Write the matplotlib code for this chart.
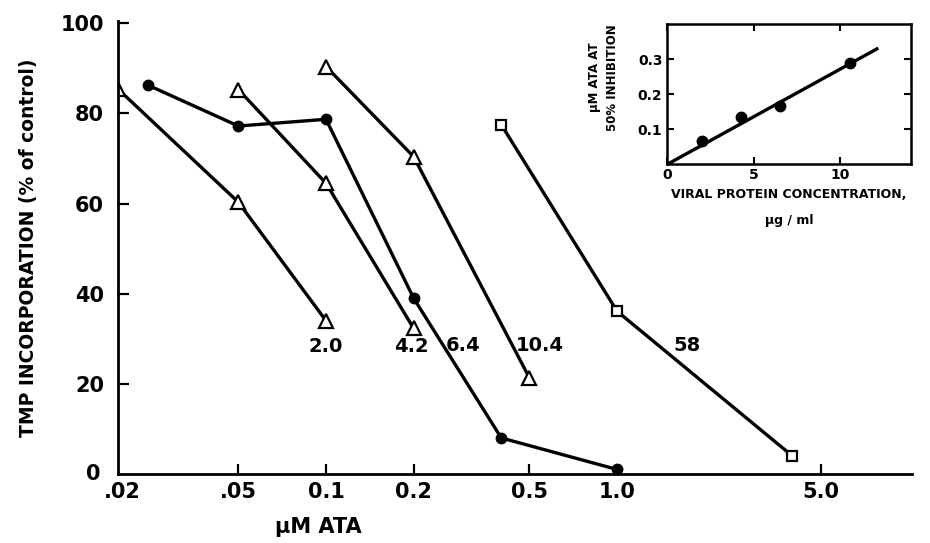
import matplotlib
matplotlib.use("Agg")
import matplotlib.pyplot as plt

# main panel: uM ATA vs TMP incorporation (% of control)
x_20 = [0.0193, 0.05, 0.1]
y_20 = [85.4, 60.3, 34.0]
x_42 = [0.05, 0.1, 0.2]
y_42 = [85.3, 64.5, 32.3]
x_64 = [0.0244, 0.05, 0.1, 0.2, 0.4, 1.0]
y_64 = [86.3, 77.2, 78.7, 39.0, 8.0, 1.0]
x_104 = [0.1, 0.2, 0.5]
y_104 = [90.4, 70.4, 21.3]
x_58 = [0.4, 1.0, 4.0]
y_58 = [77.5, 36.1, 4.0]

curve_labels = ["2.0", "4.2", "6.4", "10.4", "58"]
label_x = [0.1, 0.197, 0.296, 0.544, 1.74]
label_y = [28.3, 28.3, 28.4, 28.4, 28.4]

xticks = [0.02, 0.05, 0.1, 0.2, 0.5, 1.0, 5.0]
xticklabels = [".02", ".05", "0.1", "0.2", "0.5", "1.0", "5.0"]
yticks = [20, 40, 60, 80, 100]

# inset: viral protein vs uM ATA at 50% inhibition
inset_x = [2.02, 4.26, 6.51, 10.52]
inset_y = [0.067, 0.136, 0.165, 0.290]
fit_x = [0, 12.1]
fit_y = [0, 0.329]

plt.rcParams['font.family'] = ['DejaVu Sans']
plt.rcParams['font.weight'] = 'bold'

fig = plt.figure(figsize=(9.3, 5.43), dpi=100)
ax = fig.add_axes([0.1269, 0.1271, 0.8537, 0.8342])

lw = 2.4
tri = dict(marker="^", markersize=10, markerfacecolor="white",
           markeredgecolor="black", markeredgewidth=1.6)
ax.plot(x_20, y_20, color="black", lw=lw, **tri)
ax.plot(x_42, y_42, color="black", lw=lw, **tri)
ax.plot(x_104, y_104, color="black", lw=lw, **tri)
ax.plot(x_64, y_64, color="black", lw=lw, marker="o", markersize=7.5)
ax.plot(x_58, y_58, color="black", lw=lw, marker="s", markersize=7,
        markerfacecolor="white", markeredgecolor="black", markeredgewidth=1.6)

for t, lx, ly in zip(curve_labels, label_x, label_y):
    ax.text(lx, ly, t, ha="center", va="center", fontsize=14, fontweight="bold")

ax.set_xscale("log")
ax.set_xlim(0.0193, 10.3)
ax.set_ylim(0, 100.5)
ax.set_xticks(xticks)
ax.set_xticklabels(xticklabels)
ax.minorticks_off()
ax.xaxis.get_major_ticks()[0].tick1line.set_visible(False)
ax.set_yticks(yticks)
ax.set_yticklabels([str(v) for v in yticks])
ax.text(-0.022, 0, "0", transform=ax.get_yaxis_transform(), ha="right",
        va="center", fontsize=15, fontweight="bold")
ax.tick_params(axis="both", direction="in", width=1.6, labelsize=15)
ax.tick_params(axis="y", length=8, pad=10)
ax.tick_params(axis="x", length=7, pad=6)
for side in ["top", "right"]:
    ax.spines[side].set_visible(False)
for side in ["left", "bottom"]:
    ax.spines[side].set_linewidth(2)

ax.set_ylabel("TMP INCORPORATION (% of control)", fontsize=13.5,
              fontweight="bold", labelpad=16)
ax.set_xlabel("\u03bcM ATA", fontsize=15, fontweight="bold", labelpad=8)
ax.xaxis.set_label_coords(0.252, -0.095)

# inset
ins = fig.add_axes([0.7175, 0.6974, 0.2617, 0.2584])
ins.plot(fit_x, fit_y, color="black", lw=2.4)
ins.plot(inset_x, inset_y, "o", color="black", markersize=7.5)
ins.set_xlim(0, 14.05)
ins.set_ylim(0, 0.40)
ins.set_xticks([0, 5, 10])
ins.set_xticklabels(["0", "5", "10"])
ins.set_yticks([0.1, 0.2, 0.3])
ins.set_yticklabels(["0.1", "0.2", "0.3"])
ins.tick_params(axis="both", direction="in", length=5, width=1.5,
                labelsize=10, top=True, right=True)
ins.tick_params(axis="x", pad=3)
for s in ins.spines.values():
    s.set_linewidth(1.8)
ins.set_xlabel("VIRAL PROTEIN CONCENTRATION,\n\u03bcg / ml", fontsize=9,
               fontweight="bold", linespacing=2.3, labelpad=4)
ins.set_ylabel("\u03bcM ATA AT\n50% INHIBITION", fontsize=8.5,
               fontweight="bold", linespacing=1.5, labelpad=4)
ins.yaxis.set_label_coords(-0.2, 0.62)

fig.savefig("out.png", dpi=100)
